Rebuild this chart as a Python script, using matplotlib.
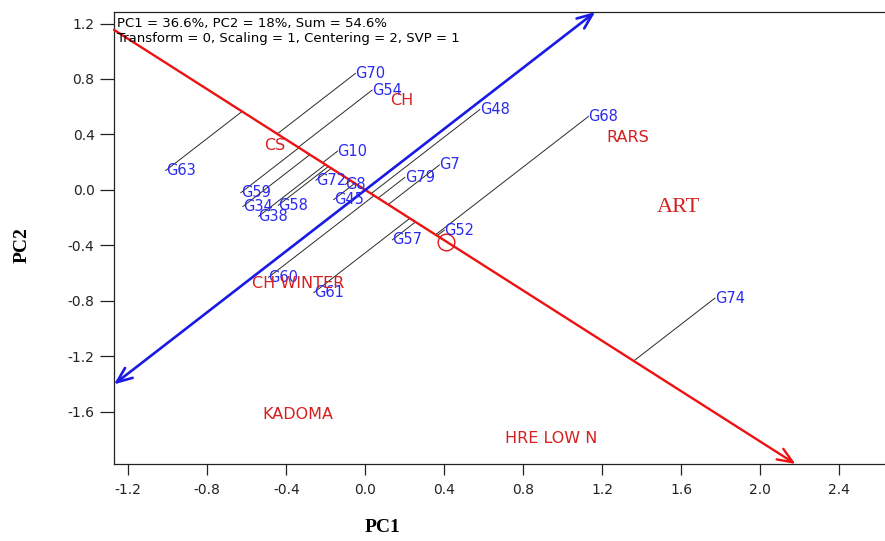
import numpy as np
import matplotlib
matplotlib.use("Agg")
import matplotlib.pyplot as plt
from matplotlib.ticker import FixedLocator, FormatStrFormatter

plt.rcParams["axes.unicode_minus"] = False

# Genotype scores on the first two principal components
genotypes = ["G70", "G54", "G48", "G10", "G63", "G59", "G34", "G58", "G38", "G72",
             "G8", "G45", "G79", "G7", "G57", "G52", "G60", "G61", "G68", "G74"]
g_pc1 = [-0.05, 0.035, 0.58, -0.14, -1.01, -0.63, -0.62, -0.44, -0.54, -0.25,
         -0.10, -0.16, 0.20, 0.375, 0.137, 0.40, -0.49, -0.26, 1.13, 1.77]
g_pc2 = [0.84, 0.72, 0.58, 0.28, 0.14, -0.02, -0.12, -0.11, -0.19, 0.07,
         0.04, -0.07, 0.09, 0.18, -0.36, -0.29, -0.63, -0.74, 0.53, -0.78]

# Environment scores
environments = ["CH", "CS", "RARS", "ART", "CH WINTER", "KADOMA", "HRE LOW N"]
e_pc1 = [0.125, -0.513, 1.223, 1.476, -0.574, -0.523, 0.707]
e_pc2 = [0.642, 0.317, 0.379, -0.13, -0.674, -1.622, -1.795]

# Average environment coordinate
aec = (0.41, -0.372)

x_ticks = [-1.2, -0.8, -0.4, 0.0, 0.4, 0.8, 1.2, 1.6, 2.0, 2.4]
y_ticks = [-1.6, -1.2, -0.8, -0.4, 0.0, 0.4, 0.8, 1.2]
xlim = (-1.272, 2.631)
ylim = (-1.976, 1.283)

header = ["PC1 = 36.6%, PC2 = 18%, Sum = 54.6%",
          "Transform = 0, Scaling = 1, Centering = 2, SVP = 1"]

BLUE = "#2b2bf0"
RED = "#d42020"
LINE_RED = "#ee1111"
LINE_BLUE = "#1a1ae6"
SANS = "DejaVu Sans"

fig = plt.figure(figsize=(8.85, 5.41), dpi=100)
ax = fig.add_axes([114 / 885, 1 - 464 / 541, 1 - 114 / 885, (464 - 12) / 541])
ax.set_xlim(*xlim)
ax.set_ylim(*ylim)


def box_segment(d):
    """Parameter range t for which t*d stays inside the axes box."""
    ts = []
    for lim, comp in ((xlim, d[0]), (ylim, d[1])):
        if comp != 0:
            a, b = lim[0] / comp, lim[1] / comp
            ts.append((min(a, b), max(a, b)))
    t0 = max(t[0] for t in ts)
    t1 = min(t[1] for t in ts)
    return t0, t1


d_red = np.array(aec, dtype=float)
d_blue = np.array([-aec[1], aec[0]], dtype=float)

# Projections of genotypes onto the average-environment axis
u = d_red / np.linalg.norm(d_red)
for x, y in zip(g_pc1, g_pc2):
    p = np.array([x, y])
    foot = np.dot(p, u) * u
    ax.plot([x, foot[0]], [y, foot[1]], color="#2a2a2a", lw=0.7, zorder=2)

# Average environment axis (abscissa) with arrow toward the mean environment
t0, t1 = box_segment(d_red)
ax.annotate("", xy=tuple(t1 * d_red), xytext=tuple(t0 * d_red),
            arrowprops=dict(arrowstyle="->,head_length=1.1,head_width=0.45",
                            color=LINE_RED, lw=1.7, shrinkA=0, shrinkB=0),
            zorder=3, annotation_clip=False)

# Perpendicular axis (ordinate), arrows at both ends
t0, t1 = box_segment(d_blue)
ax.annotate("", xy=tuple(t1 * d_blue), xytext=tuple(t0 * d_blue),
            arrowprops=dict(arrowstyle="<->,head_length=1.1,head_width=0.45",
                            color=LINE_BLUE, lw=1.9, shrinkA=0, shrinkB=0),
            zorder=3, annotation_clip=False)

# Mean environment marker
ax.plot([aec[0]], [aec[1]], marker="o", ms=12, mfc="none", mec=LINE_RED, mew=1.0, zorder=4)

for name, x, y in zip(genotypes, g_pc1, g_pc2):
    ax.text(x, y, name, color=BLUE, fontsize=10.5, family=SANS,
            ha="left", va="center", zorder=5)

for name, x, y in zip(environments, e_pc1, e_pc2):
    if name == "ART":
        ax.text(x, y, name, color=RED, fontsize=16, family="Liberation Serif",
                ha="left", va="center", zorder=5)
    else:
        ax.text(x, y, name, color=RED, fontsize=11.5, family=SANS,
                ha="left", va="center", zorder=5)

ax.text(0.004, 0.99, header[0], transform=ax.transAxes, fontsize=9.5,
        family=SANS, ha="left", va="top", zorder=6)
ax.text(0.004, 0.955, header[1], transform=ax.transAxes, fontsize=9.5,
        family=SANS, ha="left", va="top", zorder=6)

ax.xaxis.set_major_locator(FixedLocator(x_ticks))
ax.yaxis.set_major_locator(FixedLocator(y_ticks))
ax.xaxis.set_major_formatter(FormatStrFormatter("%.1f"))
ax.yaxis.set_major_formatter(FormatStrFormatter("%.1f"))
ax.tick_params(axis="x", direction="out", length=8, width=0.9, pad=6,
               labelsize=10, colors="#222222")
ax.tick_params(axis="y", direction="out", length=10, width=0.9, pad=4,
               labelsize=10, colors="#222222")
for lbl in ax.get_xticklabels() + ax.get_yticklabels():
    lbl.set_family(SANS)

for side in ("left", "bottom", "top"):
    ax.spines[side].set_linewidth(0.9)
    ax.spines[side].set_color("#222222")
ax.spines["right"].set_visible(False)

fig.text(383 / 885, 1 - 528 / 541, "PC1", fontsize=14, fontweight="bold",
         family="Liberation Serif", ha="center", va="center")
fig.text(22 / 885, 1 - 245 / 541, "PC2", fontsize=14, fontweight="bold",
         family="Liberation Serif", ha="center", va="center", rotation=90)

fig.savefig("out.png", dpi=100)
